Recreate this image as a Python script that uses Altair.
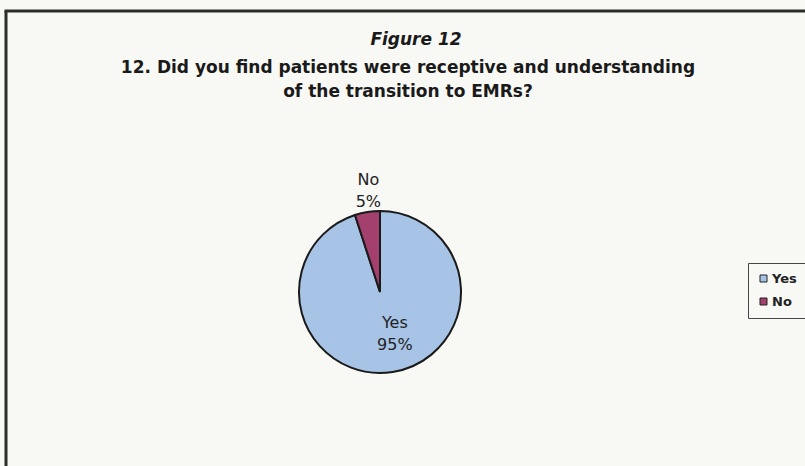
import altair as alt
import pandas as pd

categories = ["Yes", "No"]
values = [95, 5]
labels = ["Yes\n95%", "No\n5%"]
colors = ["#a7c3e6", "#a3406d"]
title_lines = ["Figure 12",
               "12. Did you find patients were receptive and understanding",
               "of the transition to EMRs?"]

df = pd.DataFrame({"answer": categories, "value": values, "label": labels,
                   "order": [0, 1]})

FONT = "DejaVu Sans"
OX, OY = 6, 11
W, H = 805 - OX, 466 - OY
CX, CY = 380 - OX, 292 - OY

color = alt.Color("answer:N", scale=alt.Scale(domain=categories, range=colors),
                  legend=alt.Legend(title=None, orient="none", legendX=748 - OX, legendY=263 - OY,
                                    symbolType="square", symbolStrokeColor="#222",
                                    symbolStrokeWidth=1, symbolSize=49,
                                    labelFont=FONT, labelFontSize=13, labelFontWeight="bold",
                                    labelColor="#222", strokeColor="#444", padding=9,
                                    rowPadding=9, symbolOffset=0, labelOffset=2))

pie = alt.Chart(df).mark_arc(outerRadius=81, stroke="#1a1a1a", strokeWidth=2).encode(
    theta=alt.Theta("value:Q", stack=True),
    order=alt.Order("order:Q"),
    color=color, x=alt.value(CX), y=alt.value(CY))

lab_base = alt.Chart(df).transform_window(
    cum="sum(value)", sort=[alt.SortField("order")]
).transform_calculate(mid="datum.cum - datum.value / 2")


def label_layer(name, radius, dx):
    return lab_base.transform_filter(alt.datum.answer == name).mark_text(
        radius=radius, dx=dx, font=FONT, fontSize=16, color="#222",
        lineBreak="\n", lineHeight=22).encode(
        theta=alt.Theta("mid:Q", stack=None),
        text="label:N", x=alt.value(CX), y=alt.value(CY))


yes_lab = label_layer("Yes", 31, 10)
no_lab = label_layer("No", 113, 6)

tdf = pd.DataFrame({"t": title_lines, "i": [0, 1, 2]})
title_fig = alt.Chart(tdf).transform_filter(alt.datum.i == 0).mark_text(
    font=FONT, fontSize=17, fontWeight="bold", fontStyle="italic", color="#1a1a1a").encode(
    text="t:N", x=alt.value(416 - OX), y=alt.value(40 - OY))
title_q1 = alt.Chart(tdf).transform_filter(alt.datum.i == 1).mark_text(
    font=FONT, fontSize=17, fontWeight="bold", color="#1a1a1a").encode(
    text="t:N", x=alt.value(408 - OX), y=alt.value(68 - OY))
title_q2 = alt.Chart(tdf).transform_filter(alt.datum.i == 2).mark_text(
    font=FONT, fontSize=17, fontWeight="bold", color="#1a1a1a").encode(
    text="t:N", x=alt.value(408 - OX), y=alt.value(92 - OY))

frame = pd.DataFrame({"k": [0]})
left_edge = alt.Chart(frame).mark_rule(color="#2a2f2a", strokeWidth=3).encode(
    x=alt.value(0), y=alt.value(0), y2=alt.value(H))
top_edge = alt.Chart(frame).mark_rule(color="#2a2f2a", strokeWidth=3).encode(
    y=alt.value(0), x=alt.value(-1.5), x2=alt.value(W))

chart = alt.layer(left_edge, top_edge, pie, yes_lab, no_lab,
                  title_fig, title_q1, title_q2).properties(
    width=W, height=H,
    padding={"left": OX, "top": OY, "right": 0, "bottom": 0},
    autosize=alt.AutoSizeParams(type="none"),
    background="#f8f8f5",
).configure_view(stroke=None)

chart.save("out.html", embed_options={"renderer": "svg", "actions": False})
